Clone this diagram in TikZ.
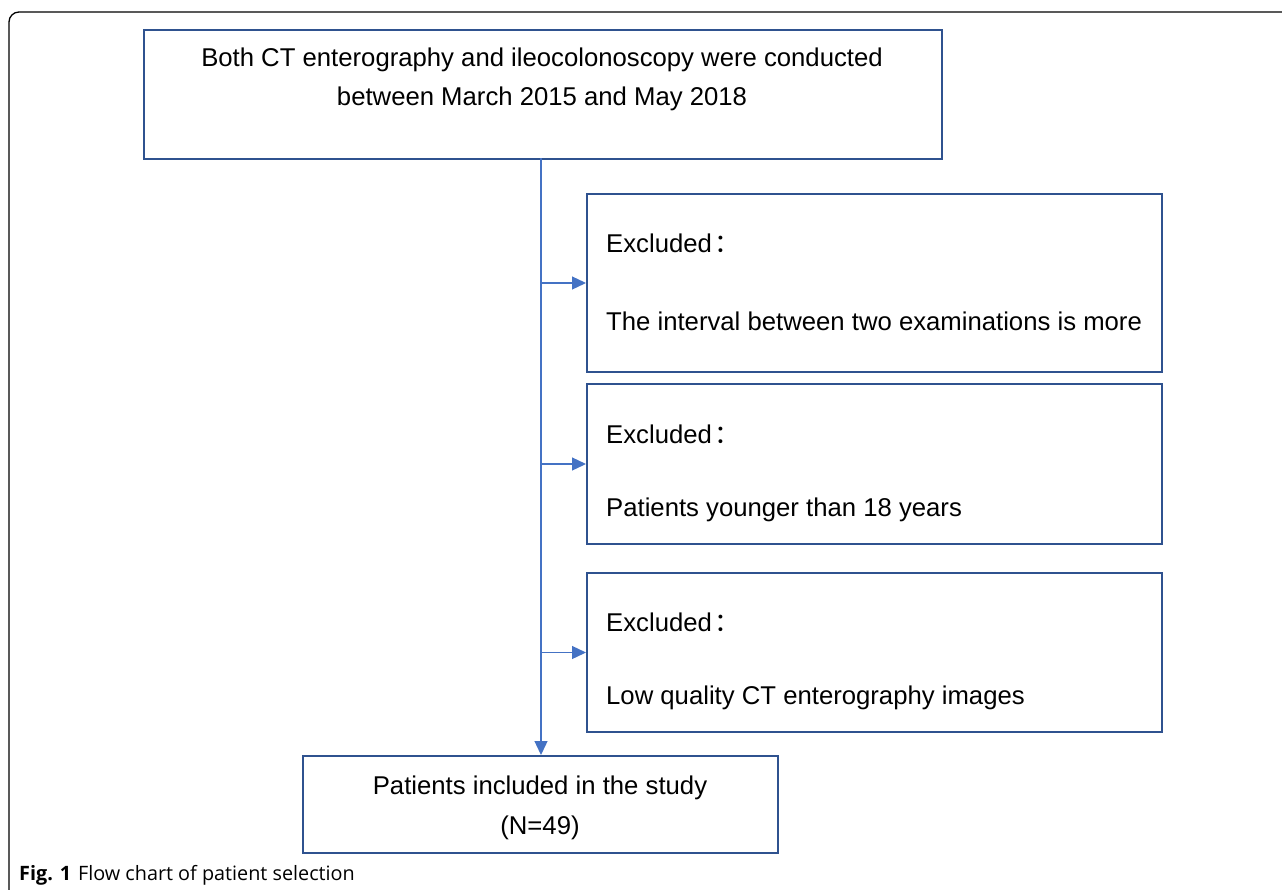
\documentclass[tikz,border=0pt]{standalone}
\usepackage{fontspec}
\setmainfont{Liberation Sans}
\newfontfamily\cjkfont{Noto Sans CJK SC}
\newfontfamily\capfont{Open Sans}
\usetikzlibrary{arrows.meta}
\definecolor{boxblue}{HTML}{2F528F}
\definecolor{arrowblue}{HTML}{4472C4}
\tikzset{
  box/.style={draw=boxblue, line width=2pt, rectangle, inner sep=0pt, anchor=north west},
  txt/.style={inner sep=0pt, font=\fontsize{25.7}{30}\selectfont},
  conn/.style={draw=arrowblue, line width=1.3pt, -{Triangle[length=14pt,width=13pt]}},
  frame/.style={draw=black, line width=1.3pt},
}
\newcommand{\fwcolon}{\hspace{3pt}{\cjkfont ：}}
\begin{document}
\begin{tikzpicture}[x=1pt,y=-1pt]
\useasboundingbox (0,0) rectangle (1282,889);
\draw[frame, rounded corners=10pt] (1283,12) -- (9,12) -- (9,890);
% boxes
\node[box, minimum width=798, minimum height=129] (top) at (143,29) {};
\node[box, minimum width=575, minimum height=178] (ex1) at (586,193) {};
\node[box, minimum width=575, minimum height=160] (ex2) at (586,383) {};
\node[box, minimum width=575, minimum height=159] (ex3) at (586,572) {};
\node[box, minimum width=475, minimum height=97] (inc) at (302,755) {};
% texts
\node[txt] (t1) at (542,60) {Both CT enterography and ileocolonoscopy were conducted};
\node[txt] (t2) at (542,99) {between March 2015 and May 2018};
\node[txt, anchor=west] (e1a) at (606,243) {Excluded\fwcolon};
\node[txt, anchor=west] (e1b) at (606,321) {The interval between two examinations is more};
\node[txt, anchor=west] (e2a) at (606,434) {Excluded\fwcolon};
\node[txt, anchor=west] (e2b) at (606,510) {Patients younger than 18 years};
\node[txt, anchor=west] (e3a) at (606,622) {Excluded\fwcolon};
\node[txt, anchor=west] (e3b) at (606,698) {Low quality CT enterography images};
\node[txt] (i1) at (540,788) {Patients included in the study};
\node[txt] (i2) at (540,828) {(N=49)};
% caption
\node[inner sep=0pt, anchor=west, font=\capfont\fontsize{19.8}{22}\selectfont] (cap) at (19,875) {\textbf{Fig. 1}\hspace{7pt}Flow chart of patient selection};
% connectors
\coordinate (vtop) at (541,158);
\draw[conn] (vtop) -- (vtop |- inc.north);
\draw[conn] (vtop |- ex1.west) -- (ex1.west);
\draw[conn] (vtop |- ex2.west) -- (ex2.west);
\draw[conn] (vtop |- ex3.west) -- (ex3.west);
\end{tikzpicture}
\end{document}
